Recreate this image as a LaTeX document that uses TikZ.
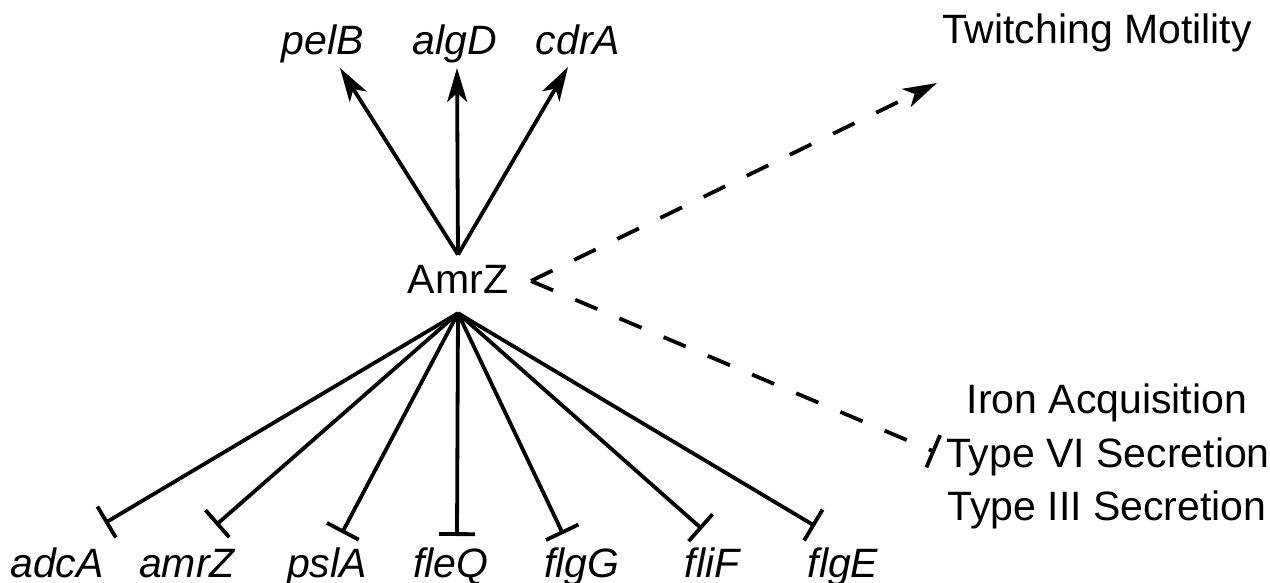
\documentclass[tikz,border=0pt]{standalone}
\usepackage{fontspec}
\setmainfont{Liberation Sans}
\usetikzlibrary{arrows.meta}
\begin{document}
\begin{tikzpicture}[x=1pt,y=-1pt,
  lbl/.style={anchor=base,inner sep=0pt,font=\fontsize{41}{48}\selectfont},
  gene/.style={anchor=base,inner sep=0pt,font=\fontsize{41}{48}\selectfont\itshape},
  link/.style={line width=3.8pt},
  act/.style={link,-{Stealth[length=34pt,width=20pt,inset=9pt]}},
  rep/.style={link,-{Bar[width=36pt]}},
  dsh/.style={link,dash pattern=on 24pt off 24pt}]
\useasboundingbox (0,0) rectangle (1270,583);
% central node
\node[lbl] (amrz) at (458,293) {AmrZ};
\coordinate (otop) at ([yshift=10pt]amrz.north);
\coordinate (obot) at ([yshift=-20pt]amrz.south);
\coordinate (overt) at (531,281);
% activated genes
\node[gene] (pelB) at (323,55) {pelB};
\node[gene] (algD) at (455,55) {algD};
\node[gene] (cdrA) at (578,55) {cdrA};
\coordinate (tpelB) at (340,68);
\coordinate (talgD) at (457,68);
\coordinate (tcdrA) at (568,67);
\draw[act] (otop) -- (tpelB);
\draw[act] (otop) -- (talgD);
\draw[act] (otop) -- (tcdrA);
% repressed genes
\node[gene] (adcA) at (57,577) {adcA};
\node[gene] (amrZg) at (187,577) {amrZ};
\node[gene] (pslA) at (327,577) {pslA};
\node[gene] (fleQ) at (451,577) {fleQ};
\node[gene] (flgG) at (582,577) {flgG};
\node[gene] (fliF) at (712,577) {fliF};
\node[gene] (flgE) at (843,577) {flgE};
\coordinate (eadcA) at (105,523);
\coordinate (eamrZ) at (216,525);
\coordinate (epslA) at (342,533);
\coordinate (efleQ) at (457,536);
\coordinate (eflgG) at (563,534);
\coordinate (efliF) at (702,529);
\coordinate (eflgE) at (815,526);
\foreach \e in {eadcA,eamrZ,epslA,efleQ,eflgG,efliF,eflgE}
  \draw[rep] (obot) -- (\e);
% phenotypes
\node[lbl] (twitch) at (1097,44) {Twitching Motility};
\node[lbl] (iron) at (1107,413) {Iron Acquisition};
\node[lbl] (t6ss) at (1108,467) {Type VI Secretion};
\node[lbl] (t3ss) at (1107,520) {Type III Secretion};
\coordinate (ttwitch) at (937,83);
\coordinate (esec) at (935,452);
\draw[dsh,-{Stealth[length=34pt,width=20pt,inset=9pt]}] (overt) -- (ttwitch);
\draw[dsh,-{Bar[width=35pt]}] (overt) -- (esec);
\end{tikzpicture}
\end{document}
